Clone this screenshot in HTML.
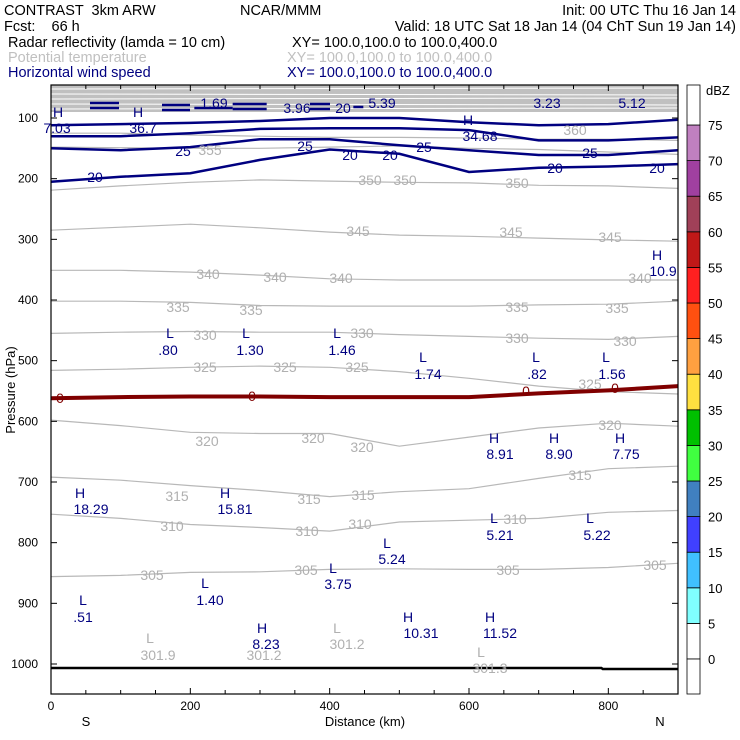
<!DOCTYPE html>
<html><head><meta charset="utf-8"><style>
body{margin:0;background:#fff}
svg{display:block;font-family:"Liberation Sans",sans-serif}
text{white-space:pre}
</style></head><body>
<svg id="c" width="740" height="740" viewBox="0 0 740 740" xmlns="http://www.w3.org/2000/svg">
<g font-size="14.5">
<text x="4" y="15" fill="#000">CONTRAST  3km ARW</text>
<text x="240" y="15" fill="#000">NCAR/MMM</text>
<text x="736" y="15" fill="#000" text-anchor="end">Init: 00 UTC Thu 16 Jan 14</text>
<text x="4" y="31" fill="#000">Fcst:    66 h</text>
<text x="736" y="31" fill="#000" text-anchor="end">Valid: 18 UTC Sat 18 Jan 14 (04 ChT Sun 19 Jan 14)</text>
<text x="8" y="47" fill="#000">Radar reflectivity (lamda = 10 cm)</text>
<text x="292" y="47" fill="#000">XY= 100.0,100.0 to 100.0,400.0</text>
<text x="8" y="62" fill="#c0c0c0">Potential temperature</text>
<text x="287" y="62" fill="#c0c0c0">XY= 100.0,100.0 to 100.0,400.0</text>
<text x="8" y="77" fill="#000080">Horizontal wind speed</text>
<text x="287" y="77" fill="#000080">XY= 100.0,100.0 to 100.0,400.0</text>
</g>
<g id="plot"></g>
</svg>
<script>
const kms=[0,100,200,300,400,500,600,700,800,900];
const thetaLevels=[360,355,350,345,340,335,330,325,320,315,310,305];
const theta360=[125,125,128,130,132,132,133,135,135,137];
const theta355=[148,149,150,150,148,146,150,152,156,160];
const theta350=[219,212,206,202,204,206,207,211,212,216];
const theta345=[285,280,275,281,288,293,295,298,301,303];
const theta340=[351,351,354,359,365,367,367,367,367,367];
const theta335=[402,402,404,409,410,410,410,408,407,402];
const theta330=[455,453,452,453,453,457,460,463,465,460];
const theta325=[516,514,511,509,511,518,529,542,551,555];
const theta320=[598,607,618,620,620,641,626,611,603,608];
const theta315=[692,697,706,714,724,716,711,694,678,674];
const theta310=[753,760,770,775,781,766,763,760,750,747];
const theta305=[856,854,849,848,844,843,844,844,841,834];
const wind20=[205,197,191,169,152,159,189,182,180,176];
const wind25=[150,153,148,135,135,145,153,161,161,153];
const wind30=[130,130,125,118,117,117,120,137,137,132];
const wind35=[112,110,108,105,100,100,107,112,110,103];
const dbz0=[562,560,559,559,560,560,560,554,549,542];
const pTicks=[100,200,300,400,500,600,700,800,900,1000];
const xTicks=[0,200,400,600,800];
const cbLevels=[0,5,10,15,20,25,30,35,40,45,50,55,60,65,70,75];
const cbColors=["#ffffff","#80ffff","#40c0ff","#4040ff","#4080c0","#40ff40","#00c000","#ffe040","#ffa040","#ff5010","#ff2020","#c01818","#a04058","#a040a0","#c080c0"];

const X0=51,X1=678,Y0=85,Y1=694;
const xs=km=>X0+km*(X1-X0)/900;
const ys=p=>118+(p-100)*(664-118)/900;
const NS="http://www.w3.org/2000/svg";
const plot=document.getElementById('plot');
function mk(t,a,parent){const e=document.createElementNS(NS,t);for(const k in a)e.setAttribute(k,a[k]);(parent||plot).appendChild(e);return e;}
function pts(arr){return arr.map((p,i)=>xs(kms[i]).toFixed(1)+','+ys(p).toFixed(1)).join(' ');}

let band=mk('rect',{x:X0,y:Y0,width:X1-X0,height:27,fill:'#c0c0c0'});


for(let i=0;i<5;i++){let l=mk('line',{x1:X0,x2:X1,y1:Y0+4+i*5,y2:Y0+4+i*5+(i%2?1:-1),stroke:'#fff','stroke-width':1});

}

const thetaSeries=[theta360,theta355,theta350,theta345,theta340,theta335,theta330,theta325,theta320,theta315,theta310,theta305];
thetaSeries.forEach((s,i)=>{let e=mk('polyline',{points:pts(s),fill:'none',stroke:'#b8b8b8','stroke-width':1.2});

});

const windSeries=[wind20,wind25,wind30,wind35];
windSeries.forEach((s,i)=>{let e=mk('polyline',{points:pts(s),fill:'none',stroke:'#000080','stroke-width':2.5});

});
[[270,357,103],[270,357,108],[486,570,105],[486,570,110],[583,698,108],[698,800,104],[698,800,109],[930,990,104],[930,990,109],[1060,1090,107]].forEach(b=>{
let e=mk('line',{x1:b[0]/3,x2:b[1]/3,y1:b[2],y2:b[2],stroke:'#000080','stroke-width':2.5});

});

let z=mk('polyline',{points:pts(dbz0),fill:'none',stroke:'#800000','stroke-width':4});


let sf=mk('polyline',{points:`${X0},668 ${xs(790)},668 ${xs(792)},669 ${X1},669`,fill:'none',stroke:'#000','stroke-width':2.5});



const navy='#000080',grey='#b0b0b0',dred='#800000';
const labels=[
["H",657,260,navy],["10.9",663,276,navy],
["L",170,338,navy],[".80",168,355,navy],["L",246,338,navy],["1.30",250,355,navy],["L",337,338,navy],["1.46",342,355,navy],
["L",423,362,navy],["1.74",428,379,navy],["L",536,362,navy],[".82",537,379,navy],["L",606,362,navy],["1.56",612,379,navy],
["H",494,443,navy],["8.91",500,459,navy],["H",554,443,navy],["8.90",559,459,navy],["H",620,443,navy],["7.75",626,459,navy],
["H",80,498,navy],["18.29",91,514,navy],["H",225,498,navy],["15.81",235,514,navy],
["L",494,523,navy],["5.21",500,540,navy],["L",590,523,navy],["5.22",597,540,navy],
["L",387,548,navy],["5.24",392,564,navy],["L",333,573,navy],["3.75",338,589,navy],
["L",205,588,navy],["1.40",210,605,navy],["L",83,605,navy],[".51",83,622,navy],
["H",262,633,navy],["8.23",266,649,navy],["H",408,622,navy],["10.31",421,638,navy],["H",490,622,navy],["11.52",500,638,navy],
["L",150,643,grey],["301.9",158,660,grey],["301.2",264,660,grey],["L",337,633,grey],["301.2",347,649,grey],["L",481,657,grey],["301.3",490,673,grey],
["H",58,117,navy],["7.03",57,133,navy],["H",138,117,navy],["36.7",143,133,navy],
["1.69",214,108,navy],["3.96",297,113,navy],["20",343,113,navy],["5.39",382,108,navy],["3.23",547,108,navy],["5.12",632,108,navy],
["H",468,125,navy],["34.68",480,141,navy],
["20",95,182,navy],["25",183,156,navy],["25",305,151,navy],["20",350,160,navy],["20",390,160,navy],["25",424,152,navy],["25",590,158,navy],["20",555,173,navy],["20",657,173,navy],
["350",370,185,grey],["350",405,185,grey],["350",517,188,grey],["355",210,155,grey],["360",575,135,grey],
["345",358,236,grey],["345",511,237,grey],["345",610,242,grey],
["340",208,279,grey],["340",275,282,grey],["340",341,283,grey],["340",640,283,grey],
["335",178,312,grey],["335",251,315,grey],["335",517,312,grey],["335",617,313,grey],
["330",205,340,grey],["330",362,338,grey],["330",517,343,grey],["330",625,346,grey],
["325",205,372,grey],["325",285,372,grey],["325",357,372,grey],["325",590,389,grey],
["320",207,446,grey],["320",313,443,grey],["320",362,452,grey],["320",610,430,grey],
["315",177,501,grey],["315",309,504,grey],["315",363,500,grey],["315",580,480,grey],
["310",172,531,grey],["310",307,536,grey],["310",360,529,grey],["310",515,524,grey],
["305",152,580,grey],["305",306,575,grey],["305",508,575,grey],["305",655,570,grey],
["0",60,403,dred],["0",252,401,dred],["0",526,396,dred],["0",615,393,dred]];
labels.forEach(l=>{let t=mk('text',{x:l[1],y:l[2],fill:l[3],'font-size':14,'text-anchor':'middle'});t.textContent=l[0];

});

let fr=mk('rect',{x:X0,y:Y0,width:X1-X0,height:Y1-Y0,fill:'none',stroke:'#000','stroke-width':1.2});


pTicks.forEach(p=>{const y=ys(p);
let a=mk('line',{x1:X0,x2:X0+6,y1:y,y2:y,stroke:'#000'});
let b=mk('line',{x1:X1-6,x2:X1,y1:y,y2:y,stroke:'#000'});
let t=mk('text',{x:38,y:y+4,'font-size':12,'text-anchor':'end'});t.textContent=p;

});
for(let k=0;k<=900;k+=50){const x=xs(k);const len=k%200==0?6:4;
let a=mk('line',{x1:x,x2:x,y1:Y1-len,y2:Y1,stroke:'#000'});
let b=mk('line',{x1:x,x2:x,y1:Y0,y2:Y0+len,stroke:'#000'});}
xTicks.forEach(k=>{let t=mk('text',{x:xs(k),y:710,'font-size':12,'text-anchor':'middle'});t.textContent=k;

});
[["S",86],["Distance (km)",365],["N",660]].forEach(a=>{let t=mk('text',{x:a[1],y:726,'font-size':13,'text-anchor':'middle'});t.textContent=a[0];

});
let yt=mk('text',{x:0,y:0,'font-size':13,'text-anchor':'middle',transform:'translate(15,390) rotate(-90)'});yt.textContent='Pressure (hPa)';



const cbY=v=>659-v*35.6/5;
cbColors.forEach((c,i)=>{let r=mk('rect',{x:687,y:cbY(cbLevels[i+1]),width:13,height:cbY(cbLevels[i])-cbY(cbLevels[i+1]),fill:c,stroke:'#000','stroke-width':0.8});

});
let r1=mk('rect',{x:687,y:Y0,width:13,height:cbY(75)-Y0,fill:'#fff',stroke:'#000','stroke-width':0.8});


let r2=mk('rect',{x:687,y:cbY(0),width:13,height:Y1-cbY(0),fill:'#fff',stroke:'#000','stroke-width':0.8});


cbLevels.forEach(v=>{let t=mk('text',{x:708,y:cbY(v)+5,'font-size':13});t.textContent=v;

});
let du=mk('text',{x:706,y:95,'font-size':13});du.textContent='dBZ';


</script>
</body></html>
